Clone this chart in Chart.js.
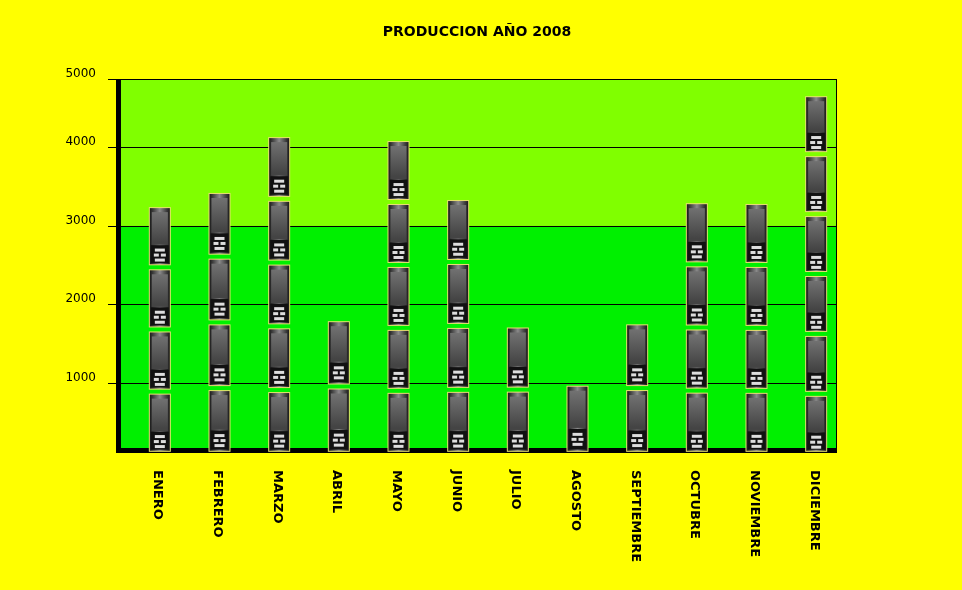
<!DOCTYPE html>
<html>
<head>
<meta charset="utf-8">
<script src="https://cdn.jsdelivr.net/npm/chart.js@4.4.0/dist/chart.umd.min.js"></script>
<style>
  body { margin: 0; background: #ffff00; }
  #wrap { width: 962px; height: 590px; }
</style>
</head>
<body>
<div id="wrap"><canvas id="prodChart"></canvas></div>
<script>
const meses = ['ENERO', 'FEBRERO', 'MARZO', 'ABRIL', 'MAYO', 'JUNIO', 'JULIO', 'AGOSTO', 'SEPTIEMBRE', 'OCTUBRE', 'NOVIEMBRE', 'DICIEMBRE'];
const produccion = [3250, 3430, 4140, 1800, 4090, 3340, 1720, 980, 1760, 3300, 3290, 4660];
const ticksY = [1000, 2000, 3000, 4000, 5000];
const unidadesPorIcono = 800;
const desplazX = 10;

// dibuja un telefono en x,y (esquina sup. izq.)
function dibujarTelefono(ctx, x, y, w, h) {
    ctx.save();
    ctx.fillStyle = '#e8e070';
    ctx.fillRect(x - 1, y - 1, w + 2, h + 2);
    let g = ctx.createLinearGradient(x, 0, x + w, 0);
    g.addColorStop(0, '#1a1a1a');
    g.addColorStop(0.5, '#8a8a8a');
    g.addColorStop(1, '#1a1a1a');
    ctx.fillStyle = g;
    ctx.fillRect(x, y, w, h);
    let g2 = ctx.createLinearGradient(0, y, 0, y + h * 0.6);
    g2.addColorStop(0, '#777');
    g2.addColorStop(1, '#444');
    ctx.fillStyle = g2;
    ctx.fillRect(x + 2, y + 4, w - 4, h * 0.58);
    ctx.fillStyle = '#111';
    ctx.fillRect(x + 1, y + h * 0.66, w - 2, h * 0.32);
    ctx.fillStyle = '#ddd';
    const ky = y + h * 0.72;
    ctx.fillRect(x + 5, ky, w - 10, 3);
    ctx.fillRect(x + 4, ky + 5, 5, 3);
    ctx.fillRect(x + w - 9, ky + 5, 5, 3);
    ctx.fillRect(x + 5, ky + 10, w - 10, 3);
    ctx.restore();
}

const pictoPlugin = {
    id: 'picto',
    beforeDatasetsDraw(chart) {
        const { ctx, chartArea: a, scales: { y } } = chart;
        const y3 = y.getPixelForValue(3000);
        ctx.save();
        ctx.fillStyle = '#80ff00';
        ctx.fillRect(a.left, a.top, a.right - a.left, y3 - a.top);
        ctx.fillStyle = '#00f000';
        ctx.fillRect(a.left, y3, a.right - a.left, a.bottom - y3);
        ctx.strokeStyle = '#000';
        ctx.lineWidth = 1;
        ctx.fillStyle = '#000';
        ctx.font = '12px "DejaVu Sans"';
        ctx.textAlign = 'right';
        ticksY.forEach(t => {
            const py = Math.round(Math.max(a.top, y.getPixelForValue(t))) + 0.5;
            ctx.beginPath();
            ctx.moveTo(a.left - 12, py);
            ctx.lineTo(a.right, py);
            ctx.stroke();
            ctx.fillText(String(t), 96, py - 3);
        });
        ctx.beginPath();
        ctx.moveTo(a.right + 0.5, a.top);
        ctx.lineTo(a.right + 0.5, a.bottom);
        ctx.stroke();
        ctx.fillRect(a.left - 4, a.top, 5, a.bottom - a.top + 3);
        ctx.fillRect(a.left - 4, a.bottom - 2, a.right - a.left + 5, 5);
        ctx.restore();
    },
    afterDatasetsDraw(chart) {
        const { ctx } = chart;
        const meta = chart.getDatasetMeta(0);
        meta.data.forEach((bar, i) => {
            const n = Math.max(1, Math.round(produccion[i] / unidadesPorIcono));
            const top = bar.y;
            const base = bar.base - 7;
            const slot = (base - top) / n;
            for (let k = 0; k < n; k++) {
                dibujarTelefono(ctx, bar.x + desplazX - 10, top + k * slot + 2, 20, slot - 6);
            }
        });
        ctx.save();
        ctx.fillStyle = '#000';
        ctx.font = 'bold 14px "DejaVu Sans"';
        ctx.textAlign = 'center';
        ctx.fillText('PRODUCCION AÑO 2008', 477, 36);
        ctx.font = 'bold 13px "DejaVu Sans"';
        ctx.textAlign = 'left';
        ctx.textBaseline = 'middle';
        const x = chart.scales.x;
        meses.forEach((m, i) => {
            ctx.save();
            ctx.translate(x.getPixelForValue(i) + desplazX - 2, 470);
            ctx.rotate(Math.PI / 2);
            ctx.fillText(m, 0, 0);
            ctx.restore();
        });
        ctx.restore();
    }
};

new Chart(document.getElementById('prodChart').getContext('2d'), {
    type: 'bar',
    data: {
        labels: meses,
        datasets: [{
            data: produccion,
            backgroundColor: 'rgba(0,0,0,0)',
            borderWidth: 0
        }]
    },
    options: {
        responsive: true,
        maintainAspectRatio: false,
        animation: false,
        layout: { padding: { top: 79, right: 126, bottom: 0, left: 0 } },
        plugins: { legend: { display: false }, tooltip: { enabled: false } },
        scales: {
            x: {
                offset: true,
                grid: { display: false },
                border: { display: false },
                ticks: { display: false },
                afterFit: s => { s.height = 140; }
            },
            y: {
                min: 150,
                max: 4866,
                afterBuildTicks: s => { s.ticks = ticksY.map(v => ({ value: v })); },
                grid: { display: false },
                border: { display: false },
                ticks: { display: false },
                afterFit: s => { s.width = 120; }
            }
        }
    },
    plugins: [pictoPlugin]
});
</script>
</body>
</html>
